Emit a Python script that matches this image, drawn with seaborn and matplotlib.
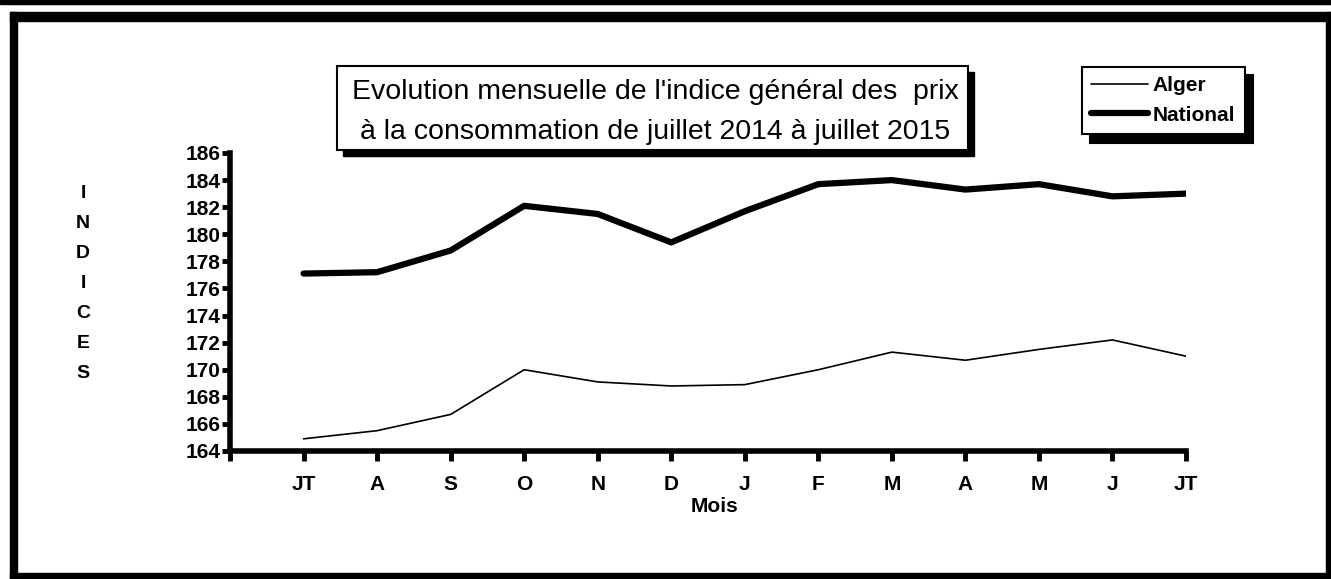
import matplotlib
matplotlib.use("Agg")
import matplotlib.pyplot as plt
from matplotlib.patches import Rectangle
import seaborn as sns
import pandas as pd
import numpy as np

# Données
mois = ['JT', 'A', 'S', 'O', 'N', 'D', 'J', 'F', 'M', 'A', 'M', 'J', 'JT']
alger = [164.9, 165.5, 166.7, 170.0, 169.1, 168.8, 168.9, 170.0, 171.3, 170.7, 171.5, 172.2, 171.0]
national = [177.1, 177.2, 178.8, 182.1, 181.5, 179.4, 181.7, 183.7, 184.0, 183.3, 183.7, 182.8, 183.0]
y_ticks = list(range(164, 187, 2))

sns.set_theme(style='white')
plt.rcParams['font.family'] = ['Liberation Sans', 'DejaVu Sans']
plt.rcParams.update({'text.color': 'black', 'axes.labelcolor': 'black',
                     'xtick.color': 'black', 'ytick.color': 'black'})

W, H = 1331, 579
fig = plt.figure(figsize=(W / 100, H / 100), dpi=100)

def px_rect(x0, y0, x1, y1, **kw):
    # rectangle en pixels (origine en haut à gauche)
    r = Rectangle((x0 / W, 1 - y1 / H), (x1 - x0) / W, (y1 - y0) / H,
                  transform=fig.transFigure, figure=fig, **kw)
    fig.patches.append(r)
    return r

# cadre extérieur
px_rect(0, 0, W, 4, color='black')
px_rect(10, 12, W, 21, color='black')
px_rect(10, 12, 17, 579, color='black')
px_rect(1326, 12, W, 579, color='black')
px_rect(10, 573, W, 579, color='black')

df = pd.DataFrame({'pos': np.arange(len(mois)), 'Alger': alger, 'National': national})

ax = fig.add_axes([230 / W, 1 - 451 / H, (1186 - 230) / W, (451 - 153) / H])
sns.lineplot(data=df, x='pos', y='Alger', ax=ax, color='black', linewidth=1.2, label='Alger')
sns.lineplot(data=df, x='pos', y='National', ax=ax, color='black', linewidth=4.5, label='National')

ax.set_xlim(-1, 12)
ax.set_ylim(164, 186)
ax.set_yticks(y_ticks)
ax.set_yticklabels([str(v) for v in y_ticks], fontsize=15, fontweight='bold')
ax.set_xticks(range(-1, 13))
ax.set_xticklabels([''] + mois, fontsize=15, fontweight='bold')
ax.tick_params(axis='y', direction='out', length=6, width=3.5, pad=1, colors='black', left=True)
ax.tick_params(axis='x', direction='out', length=7, width=3.5, pad=10, colors='black', bottom=True)
for s in ['top', 'right']:
    ax.spines[s].set_visible(False)
for s in ['left', 'bottom']:
    ax.spines[s].set_color('black')
    ax.spines[s].set_linewidth(4)
ax.set_xlabel('')
ax.set_ylabel('')
ax.grid(False)

fig.text(715 / W, 1 - 506 / H, 'Mois', ha='center', va='center', fontsize=15, fontweight='bold')
fig.text(83 / W, 1 - 283 / H, '\n'.join('INDICES'), ha='center', va='center',
         fontsize=14, fontweight='bold', linespacing=2.0)

# boîte du titre avec ombre
px_rect(343, 72, 974, 156, facecolor='black', edgecolor='black')
px_rect(337, 66, 968, 150, facecolor='white', edgecolor='black', linewidth=1.5)
fig.text(655 / W, 1 - 92 / H, "Evolution mensuelle de l'indice général des  prix",
         ha='center', va='center', fontsize=20.5)
fig.text(655 / W, 1 - 132 / H, "à la consommation de juillet 2014 à juillet 2015",
         ha='center', va='center', fontsize=20.5)

leg = ax.legend(loc='upper left', bbox_to_anchor=(1082 / W, 1 - 67 / H),
                bbox_transform=fig.transFigure, frameon=True, fancybox=False,
                prop={'weight': 'bold', 'size': 15}, handlelength=2.7,
                handletextpad=0.25, borderpad=0.45, labelspacing=0.5, borderaxespad=0,
                shadow={'facecolor': 'black', 'edgecolor': 'black', 'alpha': 1,
                        'ox': 6, 'oy': -6})
leg.get_frame().set_edgecolor('black')
leg.get_frame().set_linewidth(1.5)
for t in leg.get_texts():
    t.set_color('black')

fig.savefig('out.png', dpi=100)
